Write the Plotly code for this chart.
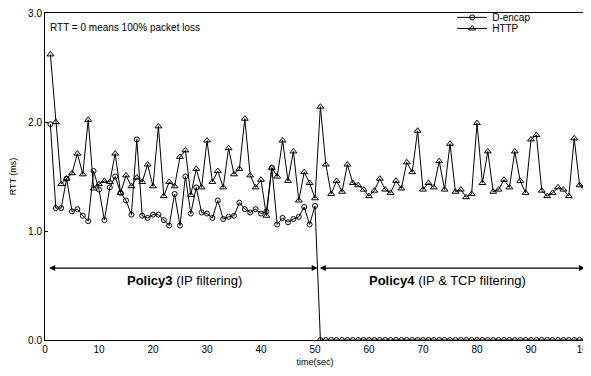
import plotly.graph_objects as go

time_sec = list(range(1, 101))

dencap_rtt = [
    1.98, 1.21, 1.21, 1.48, 1.18, 1.20, 1.14, 1.09, 1.55, 1.38,
    1.10, 1.40, 1.50, 1.35, 1.28, 1.15, 1.84, 1.14, 1.12, 1.15,
    1.15, 1.10, 1.05, 1.34, 1.05, 1.50, 1.16, 1.40, 1.17, 1.16,
    1.12, 1.28, 1.11, 1.13, 1.14, 1.26, 1.20, 1.17, 1.20, 1.16,
    1.18, 1.58, 1.06, 1.12, 1.08, 1.11, 1.13, 1.22, 1.06, 1.23,
] + [0.0] * 50

http_rtt = [
    2.62, 2.00, 1.43, 1.48, 1.53, 1.71, 1.52, 2.02, 1.39, 1.43,
    1.46, 1.45, 1.71, 1.35, 1.51, 1.41, 1.49, 1.45, 1.61, 1.41,
    1.96, 1.32, 1.45, 1.41, 1.68, 1.74, 1.33, 1.57, 1.40, 1.83,
    1.45, 1.55, 1.40, 1.76, 1.52, 1.57, 2.03, 1.51, 1.40, 1.47,
    1.14, 1.58, 1.50, 1.83, 1.46, 1.73, 1.28, 1.54, 1.44, 1.30,
    2.14, 1.61, 1.34, 1.46, 1.36, 1.61, 1.44, 1.42, 1.38, 1.32,
    1.37, 1.48, 1.38, 1.35, 1.46, 1.39, 1.63, 1.54, 1.92, 1.38,
    1.44, 1.40, 1.64, 1.38, 1.80, 1.36, 1.38, 1.31, 1.34, 1.99,
    1.44, 1.73, 1.36, 1.38, 1.47, 1.40, 1.73, 1.46, 1.35, 1.84,
    1.88, 1.37, 1.32, 1.35, 1.40, 1.38, 1.32, 1.85, 1.42, 1.41,
]

x_ticks = [0, 10, 20, 30, 40, 50, 60, 70, 80, 90, 100]
y_ticks = [0.0, 1.0, 2.0, 3.0]
y_tick_labels = ["0.0", "1.0", "2.0", "3.0"]

FONT = "Liberation Sans, Arial, sans-serif"

fig = go.Figure()
fig.add_trace(go.Scatter(
    x=time_sec, y=dencap_rtt, name="D-encap", mode="lines+markers",
    line=dict(color="black", width=1), legend="legend",
    marker=dict(symbol="circle-open", size=5, color="black", line=dict(width=1)),
))
fig.add_trace(go.Scatter(
    x=time_sec, y=http_rtt, name="HTTP", mode="lines+markers",
    line=dict(color="black", width=1), legend="legend2",
    marker=dict(symbol="triangle-up-open", size=6, color="black", line=dict(width=1)),
))

# policy span arrows
for (x0, x1) in [(0.5, 50.5), (50.6, 100)]:
    fig.add_annotation(x=x1, y=0.66, ax=x0, ay=0.66, xref="x", yref="y",
                       axref="x", ayref="y", text="", showarrow=True,
                       arrowhead=2, startarrowhead=2, arrowside="end+start",
                       arrowsize=1, startarrowsize=1, arrowwidth=1.2, arrowcolor="black")

fig.add_annotation(x=25.8, y=0.55, xref="x", yref="y", showarrow=False,
                   text="<b>Policy3</b> (IP filtering)",
                   font=dict(family=FONT, size=13, color="black"))
fig.add_annotation(x=74.6, y=0.55, xref="x", yref="y", showarrow=False,
                   text="<b>Policy4</b> (IP &amp; TCP filtering)",
                   font=dict(family=FONT, size=13, color="black"))
fig.add_annotation(x=0.005, y=0.955, xref="paper", yref="paper", showarrow=False,
                   xanchor="left", yanchor="middle",
                   text="RTT = 0 means 100% packet loss",
                   font=dict(family=FONT, size=10, color="black"))

legend_style = dict(xanchor="left", yanchor="top", bgcolor="rgba(0,0,0,0)",
                    font=dict(size=10), itemwidth=30)

# page body has an 8px margin, so the figure is offset by 8px
fig.update_layout(
    width=583, height=368,
    margin=dict(l=37, r=6, t=5, b=36, autoexpand=False),
    paper_bgcolor="white", plot_bgcolor="white",
    font=dict(family=FONT, size=10, color="black"),
    showlegend=True,
    legend=dict(x=0.754, y=1.031, **legend_style),
    legend2=dict(x=0.754, y=0.997, **legend_style),
    xaxis=dict(range=[0, 100], tickvals=x_ticks, showgrid=False, zeroline=False,
               showline=True, linecolor="black", linewidth=1, mirror=True,
               ticks="", tickfont=dict(size=10), automargin=False,
               ticklabeloverflow="allow",
               title=dict(text="time(sec)", font=dict(size=9), standoff=4)),
    yaxis=dict(range=[0, 3], tickvals=y_ticks, ticktext=y_tick_labels,
               showgrid=False, zeroline=False, automargin=False,
               ticklabeloverflow="allow",
               showline=True, linecolor="black", linewidth=1, mirror=True,
               ticks="inside", ticklen=3, tickcolor="black", tickfont=dict(size=10),
               title=dict(text="RTT (ms)", font=dict(size=9), standoff=15)),
)

fig.write_html("out.html")
